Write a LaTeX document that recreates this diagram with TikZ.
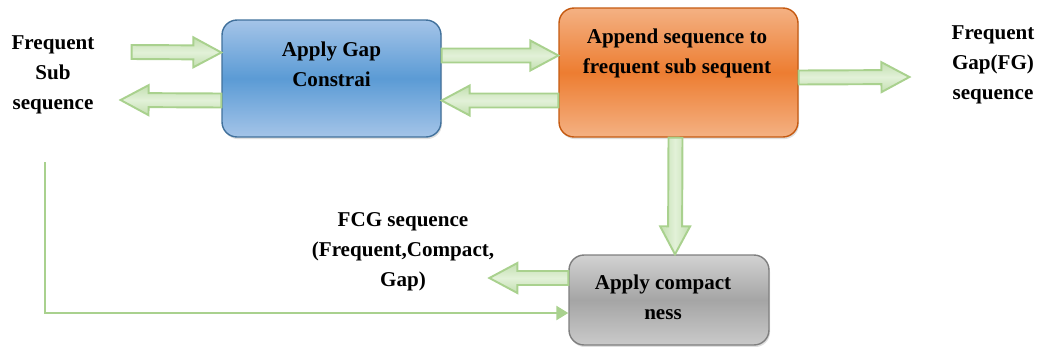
\documentclass[tikz,border=0pt]{standalone}
\usepackage{fontspec}
\setmainfont{Liberation Serif}
\usepackage{xcolor}
\usetikzlibrary{calc,arrows.meta,shadows}
\definecolor{gapblue}{HTML}{5B9BD5}
\definecolor{gaplight}{HTML}{A4C4E8}
\definecolor{gapedge}{HTML}{41719C}
\definecolor{appendorange}{HTML}{ED7D31}
\definecolor{appendlight}{HTML}{F4B183}
\definecolor{appendedge}{HTML}{C55A11}
\definecolor{compactgray}{HTML}{A5A5A5}
\definecolor{compactlight}{HTML}{D2D2D2}
\definecolor{compactedge}{HTML}{7F7F7F}
\definecolor{arrowfill}{HTML}{E2F1D8}
\definecolor{arrowedge}{HTML}{A9D18E}

\tikzset{
	box/.style={draw, rounded corners=0.3cm, line width=0.8pt, drop shadow={opacity=0.25, shadow xshift=0.6pt, shadow yshift=-1.2pt}},
	lbl/.style={align=center, font=\fontsize{12}{17}\selectfont\bfseries},
	fatbase/.style={draw=arrowedge, line width=1.1pt, line join=miter,
		to path={
			($(\tikztotarget)!0.56cm!(\tikztostart)$) coordinate (fh)
			($(\tikztostart)!0.14cm!90:(\tikztotarget)$) -- ($(fh)!0.14cm!-90:(\tikztostart)$)
			-- ($(fh)!0.3cm!-90:(\tikztostart)$) -- (\tikztotarget)
			-- ($(fh)!0.3cm!90:(\tikztostart)$) -- ($(fh)!0.14cm!90:(\tikztostart)$)
			-- ($(\tikztostart)!0.14cm!-90:(\tikztotarget)$) -- cycle
		}},
	fat/.style={fatbase, top color=arrowedge!70, bottom color=arrowedge!70, middle color=arrowfill},
	fatv/.style={fatbase, left color=arrowedge!70, right color=arrowedge!70, middle color=arrowfill},
	feed/.style={draw=arrowedge, line width=1.4pt, -{Triangle[length=0.24cm,width=0.28cm]}}
}

\begin{document}
\begin{tikzpicture}[x=0.02cm, y=-0.02cm]
	\useasboundingbox (0,0) rectangle (1038,346);
	% boxes
	\node	(gap) at (331.5,78.5) [box, draw=gapedge, top color=gaplight, bottom color=gaplight, middle color=gapblue, minimum width=4.38cm, minimum height=2.34cm] {};
	\node	(append) at (678.5,72.5) [box, draw=appendedge, top color=appendlight, bottom color=appendlight, middle color=appendorange, minimum width=4.78cm, minimum height=2.58cm] {};
	\node	(compact) at (669,300) [box, draw=compactedge, top color=compactlight, bottom color=compactlight!90!gray, middle color=compactgray, minimum width=4.0cm, minimum height=1.8cm] {};
	% texts
	\node	(gapt) at (331.5,64) [lbl] {Apply Gap\\Constrai};
	\node	(appendt) at (677,53) [lbl] {Append sequence to\\frequent sub sequent};
	\node	(compactt) at (663,297) [lbl] {Apply compact\\ness};
	\node	(fss) at (53,75) [lbl] {Frequent\\Sub\\sequence};
	\node	(fg) at (993,65) [lbl] {Frequent\\Gap(FG)\\sequence};
	\node	(fcg) at (403,252) [lbl] {FCG sequence\\(Frequent,Compact,\\Gap)};
	\draw
	($(fss.east)+(31,-23)$) edge[fat] ($(gap.west)+(0,-26)$)
	($(gap.west)+(0,22)$) edge[fat] ($(fss.east)+(20,25)$)
	($(gap.east)+(0,-23)$) edge[fat] ($(append.west)+(0,-17)$)
	($(append.west)+(0,28)$) edge[fat] ($(gap.east)+(0,22)$)
	($(append.east)+(0,5)$) edge[fat] ($(fg.west)+(-36,12)$)
	($(append.south)+(-3,0)$) edge[fatv] ($(compact.north)+(6,0)$)
	($(compact.west)+(0,-22)$) edge[fat] ($(fcg.east)+(-11,26)$)
	;
	\draw[feed] ($(fss.south)+(-8,42)$) |- ($(compact.west)+(0,13)$);
\end{tikzpicture}
\end{document}
